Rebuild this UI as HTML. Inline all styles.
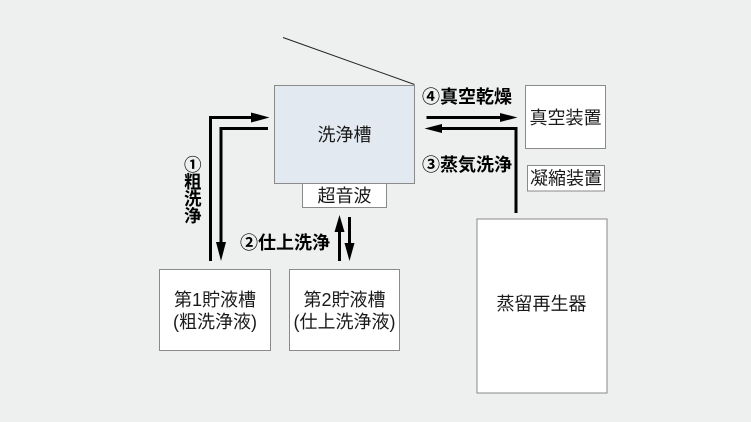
<!DOCTYPE html>
<html>
<head>
<meta charset="utf-8">
<style>
html,body{margin:0;padding:0;background:#eeefef;}
svg{display:block;}
text{font-family:"Liberation Sans","Noto Sans CJK JP",sans-serif;fill:#1a1a1a;}
.b{font-weight:bold;fill:#000;}
</style>
</head>
<body>
<svg width="751" height="422" viewBox="0 0 751 422" xmlns="http://www.w3.org/2000/svg">
<rect x="0" y="0" width="751" height="422" fill="#eeefef"/>
<!-- diagonal line -->
<line x1="283" y1="37.5" x2="414.5" y2="84.5" stroke="#222" stroke-width="1"/>
<!-- boxes -->
<rect x="274.5" y="85.5" width="140" height="98" fill="#e3e9f1" stroke="#8a8a8a" stroke-width="1"/>
<rect x="302.5" y="183.5" width="84" height="24" fill="#fff" stroke="#8a8a8a" stroke-width="1"/>
<rect x="525.5" y="85.5" width="80" height="63" fill="#fff" stroke="#8a8a8a" stroke-width="1"/>
<rect x="527.5" y="165.5" width="77" height="25.5" fill="#fff" stroke="#8a8a8a" stroke-width="1"/>
<rect x="477" y="219" width="130" height="174" fill="#fff" stroke="#8a8a8a" stroke-width="1"/>
<rect x="159.5" y="269.5" width="111" height="81" fill="#fff" stroke="#8a8a8a" stroke-width="1"/>
<rect x="289.5" y="269.5" width="110" height="81" fill="#fff" stroke="#8a8a8a" stroke-width="1"/>

<!-- arrows -->
<g stroke="#000" stroke-width="3" fill="none" stroke-linejoin="miter">
  <path d="M210.5,261 V117.5 H253"/>
  <path d="M268,128.5 H221 V244"/>
  <path d="M339.5,261 V230"/>
  <path d="M349.5,217 V245"/>
  <path d="M426.5,117.5 H502"/>
  <path d="M516,213 V128.5 H441"/>
</g>
<g fill="#000">
  <polygon points="251,112.5 269.5,117.5 251,122.5"/>
  <polygon points="216,242 226,242 221,261"/>
  <polygon points="334.5,232 344.5,232 339.5,215"/>
  <polygon points="344.5,243 354.5,243 349.5,261"/>
  <polygon points="500,113 517.5,117.5 500,122"/>
  <polygon points="442,124 424.5,128.5 442,133"/>
</g>

<!-- labels in boxes -->
<g font-size="18" text-anchor="middle" dominant-baseline="central">
  <text x="344.5" y="135">洗浄槽</text>
  <text x="344.5" y="196">超音波</text>
  <text x="565.5" y="118">真空装置</text>
  <text x="566" y="178.5">凝縮装置</text>
  <text x="541.5" y="304">蒸留再生器</text>
  <text x="215" y="300">第1貯液槽</text>
  <text x="215" y="322">(粗洗浄液)</text>
  <text x="344.5" y="300">第2貯液槽</text>
  <text x="344.5" y="322">(仕上洗浄液)</text>
</g>

<!-- bold process labels -->
<g font-size="18" dominant-baseline="central">
  <text class="b" x="422" y="97">④真空乾燥</text>
  <text class="b" x="422" y="165">③蒸気洗浄</text>
  <text class="b" x="240" y="243">②仕上洗浄</text>
</g>
<g font-size="17.5" text-anchor="middle" dominant-baseline="central">
  <text class="b" x="192.7" y="165.2">①</text>
  <text class="b" x="192.7" y="182.2">粗</text>
  <text class="b" x="192.7" y="199.2">洗</text>
  <text class="b" x="192.7" y="216.2">浄</text>
</g>
</svg>
</body>
</html>
